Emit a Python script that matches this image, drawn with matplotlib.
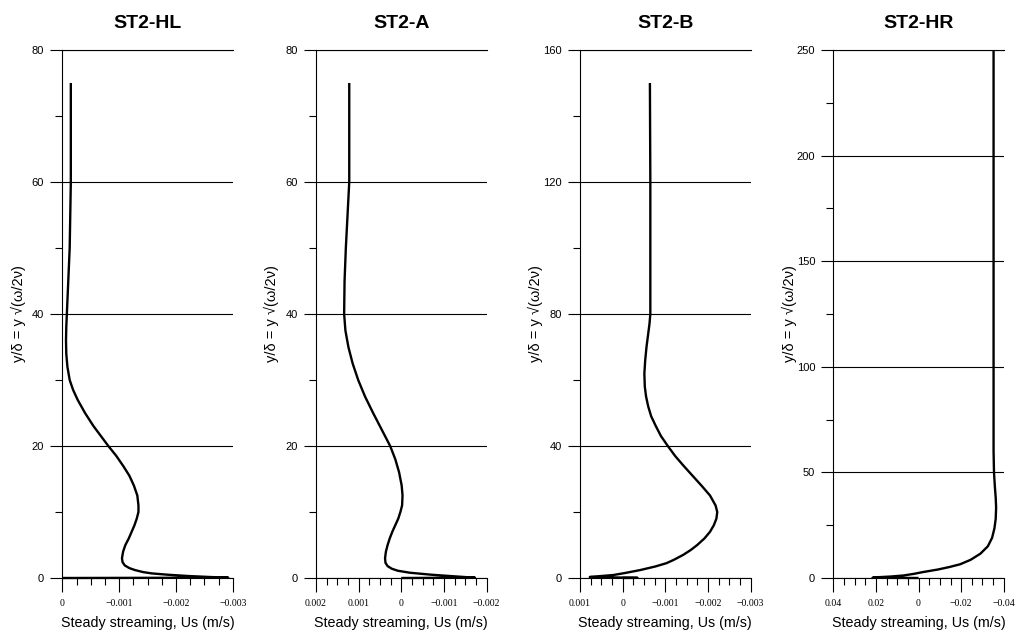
import matplotlib
matplotlib.use('Agg')
import matplotlib.pyplot as plt

plt.rcParams['font.family'] = ['Liberation Sans', 'DejaVu Sans']

titles = ['ST2-HL', 'ST2-A', 'ST2-B', 'ST2-HR']

# steady streaming profiles (y/delta, Us in m/s)
hl_y = [0, 0.05, 0.15, 0.3, 0.5, 0.7, 0.9, 1.2, 1.5, 1.9, 2.4, 3, 4, 5, 6, 7, 8, 9,
        10, 11, 12.5, 14, 15.5, 17, 18.5, 20, 21.5, 23, 25, 27, 28.5, 30, 32, 34,
        36, 38, 40, 42, 45, 50, 55, 60, 75]
hl_u = [0, -0.00292, -0.0026, -0.00222, -0.00185, -0.00157, -0.00142, -0.00128,
        -0.00118, -0.0011, -0.00106, -0.00105, -0.00107, -0.00111, -0.00117,
        -0.00122, -0.00127, -0.00131, -0.00134, -0.00134, -0.00132, -0.00126,
        -0.00118, -0.00107, -0.00095, -0.00081, -0.00068, -0.00055, -0.0004,
        -0.00027, -0.00019, -0.00013, -0.00009, -0.00007, -0.000065, -0.00007,
        -0.00008, -0.00009, -0.000105, -0.00013, -0.00014, -0.00015, -0.00015]

a_y = [0, 0.05, 0.15, 0.3, 0.5, 0.8, 1.1, 1.4, 1.8, 2.3, 3, 4, 5, 6, 7, 8, 9, 10,
       11, 12.5, 14, 16, 18, 20, 22.5, 25, 27.5, 30, 32.5, 35, 37.5, 40, 45, 50,
       55, 60, 75]
a_u = [0, -0.00173, -0.00148, -0.00114, -0.0007, -0.0002, 0.00008, 0.00022,
       0.00032, 0.00037, 0.00038, 0.00036, 0.00032, 0.00027, 0.00021, 0.00014,
       0.00007, 0.00002, -0.00002, -0.00003, -0.00001, 0.00005, 0.00014, 0.00026,
       0.00046, 0.00066, 0.00085, 0.00101, 0.00114, 0.00124, 0.00131, 0.00134,
       0.00133, 0.0013, 0.00126, 0.00122, 0.00122]

b_y = [0, 0.05, 0.3, 0.6, 0.9, 1.5, 2.4, 3.5, 4.5, 5.5, 7, 8.5, 10, 12, 14, 16,
       18, 20, 22, 25, 28, 31, 34, 37, 40, 43, 46, 49, 52, 55, 58, 62, 66, 70,
       74, 77, 80, 100, 120, 150]
b_u = [0, -0.00035, 0.00077, 0.0005, 0.00022, -0.00005, -0.00041, -0.00077,
       -0.00103, -0.0012, -0.00142, -0.0016, -0.00175, -0.00192, -0.00205,
       -0.00214, -0.0022, -0.00222, -0.00218, -0.00205, -0.00185, -0.00164,
       -0.00143, -0.00123, -0.00106, -0.0009, -0.00078, -0.00067, -0.0006,
       -0.00055, -0.00052, -0.00051, -0.00053, -0.00056, -0.0006, -0.00063,
       -0.00065, -0.00065, -0.00065, -0.00064]

hr_y = [0, 0.1, 0.3, 0.7, 1.2, 2.0, 2.8, 4.0, 5.2, 6.5, 8.6, 11.5, 15, 19, 23.5,
        28, 33.4, 38, 43.4, 50, 60, 250]
hr_u = [0, 0.0216, 0.0205, 0.013, 0.007, 0.002, -0.002, -0.009, -0.0145,
        -0.0195, -0.0244, -0.029, -0.0325, -0.0345, -0.0356, -0.0362, -0.0364,
        -0.0362, -0.0358, -0.0354, -0.0352, -0.0352]

profiles = [(hl_u, hl_y), (a_u, a_y), (b_u, b_y), (hr_u, hr_y)]

xlims = [(0, -0.003), (0.002, -0.002), (0.001, -0.003), (0.04, -0.04)]
xticks = [[0, -0.001, -0.002, -0.003],
          [0.002, 0.001, 0, -0.001, -0.002],
          [0.001, 0, -0.001, -0.002, -0.003],
          [0.04, 0.02, 0, -0.02, -0.04]]
xticklabels = [['0', '\u22120.001', '\u22120.002', '\u22120.003'],
               ['0.002', '0.001', '0', '\u22120.001', '\u22120.002'],
               ['0.001', '0', '\u22120.001', '\u22120.002', '\u22120.003'],
               ['0.04', '0.02', '0', '\u22120.02', '\u22120.04']]
yticks = [[0, 20, 40, 60, 80],
          [0, 20, 40, 60, 80],
          [0, 40, 80, 120, 160],
          [0, 50, 100, 150, 200, 250]]

fig = plt.figure(figsize=(10.18, 6.34), dpi=100)
lefts = [62.3, 316.0, 580.0, 833.3]

for i in range(4):
    ax = fig.add_axes([lefts[i] / 1018, 56 / 634, 170.5 / 1018, 528 / 634])
    u, y = profiles[i]
    ax.plot(u, y, color='black', lw=1.7, clip_on=False, zorder=3,
            solid_joinstyle='round', solid_capstyle='butt')

    ax.set_xlim(*xlims[i])
    ax.set_ylim(yticks[i][0], yticks[i][-1])

    xt = xticks[i]
    step = (xt[1] - xt[0]) / 4
    minor_x = [xt[0] + step * k for k in range(4 * (len(xt) - 1) + 1)]
    ax.set_xticks(xt)
    ax.set_xticks(minor_x, minor=True)
    ax.set_xticklabels(xticklabels[i], fontfamily='Liberation Serif', fontsize=7)

    yt = yticks[i]
    ax.set_yticks(yt)
    ax.set_yticks([(a + b) / 2 for a, b in zip(yt[:-1], yt[1:])], minor=True)
    ax.set_yticklabels([str(v) for v in yt], fontsize=8)

    ax.tick_params(axis='x', which='major', direction='out', length=10, width=0.8, pad=5)
    ax.tick_params(axis='x', which='minor', direction='out', length=5, width=0.8)
    ax.tick_params(axis='y', which='major', direction='out', length=9, width=0.8, pad=4)
    ax.tick_params(axis='y', which='minor', direction='out', length=5, width=0.8)

    ax.grid(axis='y', which='major', color='black', lw=0.8)
    ax.spines['right'].set_visible(False)
    for s in ['top', 'left', 'bottom']:
        ax.spines[s].set_linewidth(0.8)

    ax.set_title(titles[i], fontsize=14, fontweight='bold', pad=16)
    ax.set_xlabel('Steady streaming, Us (m/s)', fontsize=10.3, labelpad=6)
    ax.set_ylabel('y/\u03b4 = y \u221a(\u03c9/2\u03bd)', fontsize=10.5)
    ax.yaxis.set_label_coords(-0.215, 0.5)

fig.savefig('out.png', dpi=100)
